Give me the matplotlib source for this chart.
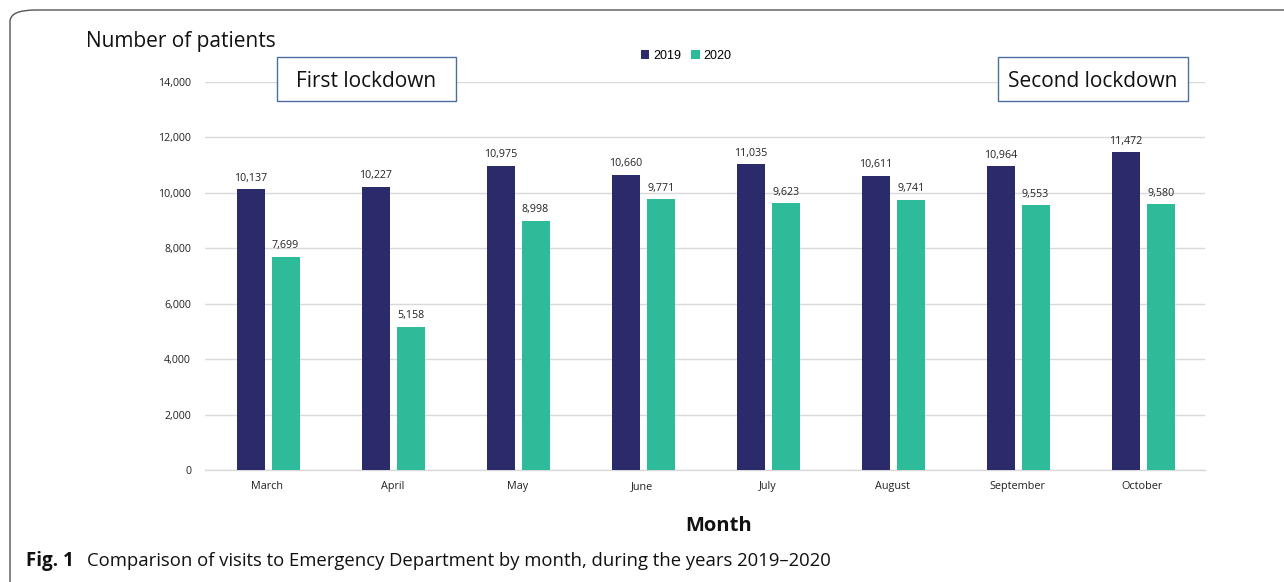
import matplotlib
matplotlib.use("Agg")
import matplotlib.pyplot as plt
from matplotlib.patches import FancyBboxPatch, Rectangle
import numpy as np

months = ["March", "April", "May", "June", "July", "August", "September", "October"]
v2019 = [10137, 10227, 10975, 10660, 11035, 10611, 10964, 11472]
v2020 = [7699, 5158, 8998, 9771, 9623, 9741, 9553, 9580]
yticks = [0, 2000, 4000, 6000, 8000, 10000, 12000, 14000]

W, H = 1284, 582
fig = plt.figure(figsize=(W/100, H/100), dpi=100)

# outer rounded frame
frame = FancyBboxPatch((10/W, -0.05), 1.2, 1 - 10/H + 0.05,
                       boxstyle="round,pad=0,rounding_size=0.02",
                       transform=fig.transFigure, fill=False,
                       edgecolor="#555555", linewidth=1.0)
fig.patches.append(frame)

ax = fig.add_axes([205/W, 1 - 470/H, 1000/W, (470-82)/H])
x = np.arange(len(months))
w = 0.225
c19 = "#2B2A6B"
c20 = "#2EBB9A"
b1 = ax.bar(x - 0.135, v2019, w, color=c19, label="2019", zorder=3)
b2 = ax.bar(x + 0.145, v2020, w, color=c20, label="2020", zorder=3)
for bars, vals in ((b1, v2019), (b2, v2020)):
    for b, v in zip(bars, vals):
        ax.annotate(f"{v:,}", (b.get_x() + b.get_width()/2, v),
                    xytext=(0, 4), textcoords="offset points",
                    ha="center", va="bottom", fontsize=7.7,
                    family="Open Sans", color="#222222")

ax.set_xlim(-0.5, 7.5)
ax.set_ylim(0, 14000)
ax.set_yticks(yticks)
ax.set_yticklabels([f"{t:,}" for t in yticks], family="Open Sans", fontsize=7.7, color="#222222")
ax.set_xticks(x)
ax.set_xticklabels(months, family="Open Sans", fontsize=7.8, color="#222222")
ax.tick_params(axis="both", length=0)
ax.tick_params(axis="y", pad=10)
ax.tick_params(axis="x", pad=8)
ax.grid(axis="y", color="#D9D9D9", linewidth=1.0, zorder=0)
for s in ["top", "right", "left"]:
    ax.spines[s].set_visible(False)
ax.spines["bottom"].set_color("#D9D9D9")
ax.spines["bottom"].set_linewidth(1.0)

leg = ax.legend(loc="center", bbox_to_anchor=(686/W, 1 - 56/H),
                bbox_transform=fig.transFigure, ncol=2, frameon=False,
                prop={"family": "Liberation Sans", "size": 9},
                handlelength=0.7, handleheight=0.7, handletextpad=0.3,
                columnspacing=0.8)

fig.text(86/W, 1 - 41/H, "Number of patients", family="Open Sans", fontsize=15,
         ha="left", va="center", color="#111111")

def boxed(text, x0, y0, x1, y1):
    fig.patches.append(Rectangle((x0/W, 1 - y1/H), (x1-x0)/W, (y1-y0)/H,
                                 transform=fig.transFigure, facecolor="white",
                                 edgecolor="#4A6FA0", linewidth=1.0, zorder=5))
    fig.text((x0+x1)/2/W, 1 - ((y0+y1)/2 + 3)/H, text, family="Open Sans", fontsize=15,
             ha="center", va="center", color="#111111", zorder=6)

boxed("First lockdown", 277, 57, 456, 101)
boxed("Second lockdown", 998, 57, 1188, 101)

fig.text(719/W, 1 - 526/H, "Month", family="Open Sans", fontsize=14.5,
         fontweight="bold", ha="center", va="center", color="#111111")

fig.text(26/W, 1 - 561/H, "Fig. 1", family="Open Sans", fontsize=13.5,
         fontweight="bold", ha="left", va="center", color="#111111")
fig.text(87/W, 1 - 561/H, "Comparison of visits to Emergency Department by month, during the years 2019\u20132020",
         family="Open Sans", fontsize=13.3, ha="left", va="center", color="#111111")

fig.savefig("out.png", dpi=100)
